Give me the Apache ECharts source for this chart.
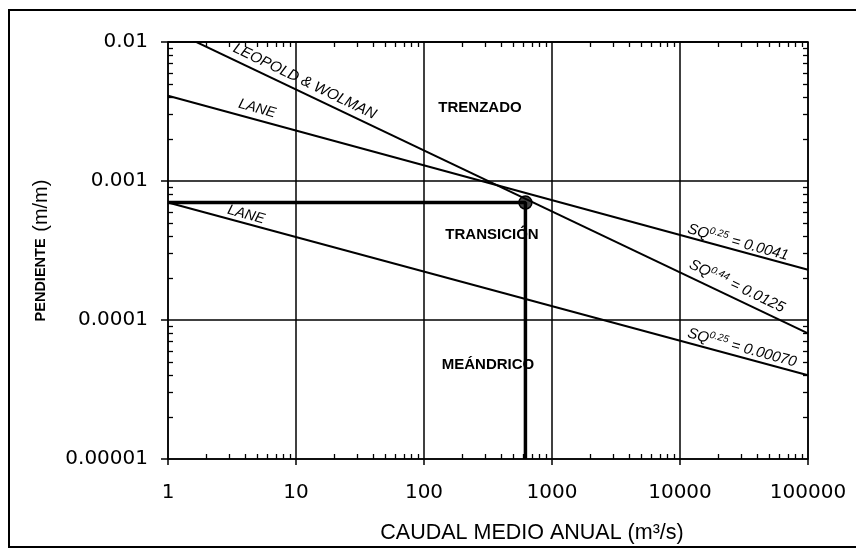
<!DOCTYPE html>
<html>
<head>
<meta charset="utf-8">
<script src="https://cdn.jsdelivr.net/npm/echarts@6/dist/echarts.min.js"></script>
<style>html,body{margin:0;padding:0;background:#fff}#c{width:856px;height:549px}</style>
</head>
<body>
<div id="c"></div>
<script>
// ---- data ----
const xTickLabels = ['1', '10', '100', '1000', '10000', '100000'];
const yTickLabels = ['0.00001', '0.0001', '0.001', '0.01'];
const leopoldWolman = [[1, 0.0125], [100000, 0.00008]];   // SQ^0.44 = 0.0125
const laneUpper = [[1, 0.0041], [100000, 0.00023]];        // SQ^0.25 = 0.0041
const laneLower = [[1, 0.0007], [100000, 0.00004]];        // SQ^0.25 = 0.00070
const designGuide = [[1, 0.0007], [620, 0.0007], [620, 0.00001]];
const designPoint = [[620, 0.0007]];
const annotationTexts = ['LEOPOLD & WOLMAN', 'LANE', 'LANE', 'TRENZADO', 'TRANSICIÓN', 'MEÁNDRICO',
  '{i|SQ}{s|0.25}{i| = 0.0041}', '{i|SQ}{s|0.44}{i| = 0.0125}', '{i|SQ}{s|0.25}{i| = 0.00070}'];
const annotationAnchors = [[11.7, 0.0052], [4.96, 0.00332], [4.07, 0.000572], [274, 0.00338], [340, 0.000411],
  [316, 0.0000477], [28400, 0.000361], [27900, 0.000175], [30500, 0.000063]];

// ---- styles ----
const FONT = '"Liberation Sans", Arial, sans-serif';
const TICKFONT = '"DejaVu Sans", sans-serif';
const annotationStyles = [
  {rotate: 25.7, fontStyle: 'italic', fontSize: 15},
  {rotate: 15.3, fontStyle: 'italic', fontSize: 14.5},
  {rotate: 15.3, fontStyle: 'italic', fontSize: 14.5},
  {rotate: 0, fontWeight: 'bold', fontSize: 15},
  {rotate: 0, fontWeight: 'bold', fontSize: 15},
  {rotate: 0, fontWeight: 'bold', fontSize: 15},
  {rotate: 15.3},
  {rotate: 25.7},
  {rotate: 15.3}
];
const rich = {
  i: {fontStyle: 'italic', fontSize: 15, fontFamily: FONT, color: '#000', textBorderWidth: 0},
  s: {fontStyle: 'italic', fontSize: 10, fontFamily: FONT, color: '#000', textBorderWidth: 0,
      verticalAlign: 'top', padding: [0, 0, 8, 0]}
};

const chart = echarts.init(document.getElementById('c'));
const black = '#000';
const logX = {type: 'log', logBase: 10, min: 1, max: 100000};
const logY = {type: 'log', logBase: 10, min: 0.00001, max: 0.01};

const annData = annotationAnchors.map((p, k) => {
  const st = annotationStyles[k];
  return {
    value: p,
    label: {
      show: true, position: 'inside', formatter: annotationTexts[k], rotate: -st.rotate,
      fontStyle: st.fontStyle || 'normal', fontWeight: st.fontWeight || 'normal',
      fontSize: st.fontSize || 15, fontFamily: FONT, color: black,
      textBorderWidth: 0, textBorderColor: 'transparent', rich: rich
    }
  };
});

chart.setOption({
  animation: false,
  backgroundColor: '#fff',
  grid: {left: 168, right: 48, top: 42, bottom: 88, containLabel: false},
  graphic: [{
    type: 'rect', shape: {x: 9, y: 10, width: 900, height: 537},
    style: {fill: 'none', stroke: black, lineWidth: 2}, silent: true
  }],
  xAxis: [
    Object.assign({}, logX, {
      position: 'bottom',
      name: 'CAUDAL MEDIO ANUAL (m³/s)', nameLocation: 'middle', nameGap: 63,
      nameTextStyle: {fontSize: 21.5, fontFamily: FONT, color: black, padding: [0, 0, 0, 88]},
      axisLine: {show: true, lineStyle: {color: black, width: 1.5}},
      axisTick: {show: true, length: 6, inside: false, lineStyle: {color: black, width: 1.5}},
      minorTick: {show: false},
      axisLabel: {margin: 24, fontSize: 20, fontFamily: TICKFONT, color: black,
        formatter: v => xTickLabels[Math.round(Math.log10(v))]},
      splitLine: {show: true, lineStyle: {color: black, width: 1.5}}
    }),
    Object.assign({}, logX, {
      position: 'bottom',
      axisLine: {show: false}, axisLabel: {show: false}, splitLine: {show: false},
      axisTick: {show: false, inside: true},
      minorTick: {show: true, splitNumber: 9, length: 5, lineStyle: {color: black, width: 1.3}}
    }),
    Object.assign({}, logX, {
      position: 'top',
      axisLine: {show: true, lineStyle: {color: black, width: 1.5}}, axisLabel: {show: false}, splitLine: {show: false},
      axisTick: {show: false, inside: true},
      minorTick: {show: true, splitNumber: 9, length: 5, lineStyle: {color: black, width: 1.3}}
    })
  ],
  yAxis: [
    Object.assign({}, logY, {
      position: 'left',
      name: '{b|PENDIENTE}  {n|(m/m)}', nameLocation: 'middle', nameGap: 117,
      nameTextStyle: {rich: {
        b: {fontWeight: 'bold', fontSize: 14.5, fontFamily: FONT, color: black},
        n: {fontSize: 20, fontFamily: FONT, color: black}
      }},
      axisLine: {show: true, lineStyle: {color: black, width: 1.5}},
      axisTick: {show: true, length: 7, inside: false, lineStyle: {color: black, width: 1.5}},
      minorTick: {show: false},
      axisLabel: {margin: 20, fontSize: 20, fontFamily: TICKFONT, color: black,
        formatter: v => yTickLabels[Math.round(Math.log10(v)) + 5]},
      splitLine: {show: true, lineStyle: {color: black, width: 1.5}}
    }),
    Object.assign({}, logY, {
      position: 'left',
      axisLine: {show: false}, axisLabel: {show: false}, splitLine: {show: false},
      axisTick: {show: false, inside: true},
      minorTick: {show: true, splitNumber: 9, length: 5, lineStyle: {color: black, width: 1.3}}
    }),
    Object.assign({}, logY, {
      position: 'right',
      axisLine: {show: true, lineStyle: {color: black, width: 1.5}}, axisLabel: {show: false}, splitLine: {show: false},
      axisTick: {show: false, inside: true},
      minorTick: {show: true, splitNumber: 9, length: 5, lineStyle: {color: black, width: 1.3}}
    })
  ],
  series: [
    {type: 'line', name: 'Leopold & Wolman', data: leopoldWolman, symbol: 'none', clip: true,
      lineStyle: {color: black, width: 2}},
    {type: 'line', name: 'Lane 0.0041', data: laneUpper, symbol: 'none', clip: true,
      lineStyle: {color: black, width: 2}},
    {type: 'line', name: 'Lane 0.00070', data: laneLower, symbol: 'none', clip: true,
      lineStyle: {color: black, width: 2}},
    {type: 'line', name: 'guide', data: designGuide, symbol: 'none', clip: true,
      lineStyle: {color: black, width: 3.5}},
    {type: 'scatter', name: 'point', data: designPoint, symbol: 'circle', symbolSize: 13,
      itemStyle: {color: '#444', borderColor: black, borderWidth: 1.5, opacity: 1}},
    {type: 'scatter', name: 'labels', data: annData, symbolSize: 0, silent: true, z: 5,
      itemStyle: {color: black, opacity: 1}}
  ]
});
</script>
</body>
</html>
